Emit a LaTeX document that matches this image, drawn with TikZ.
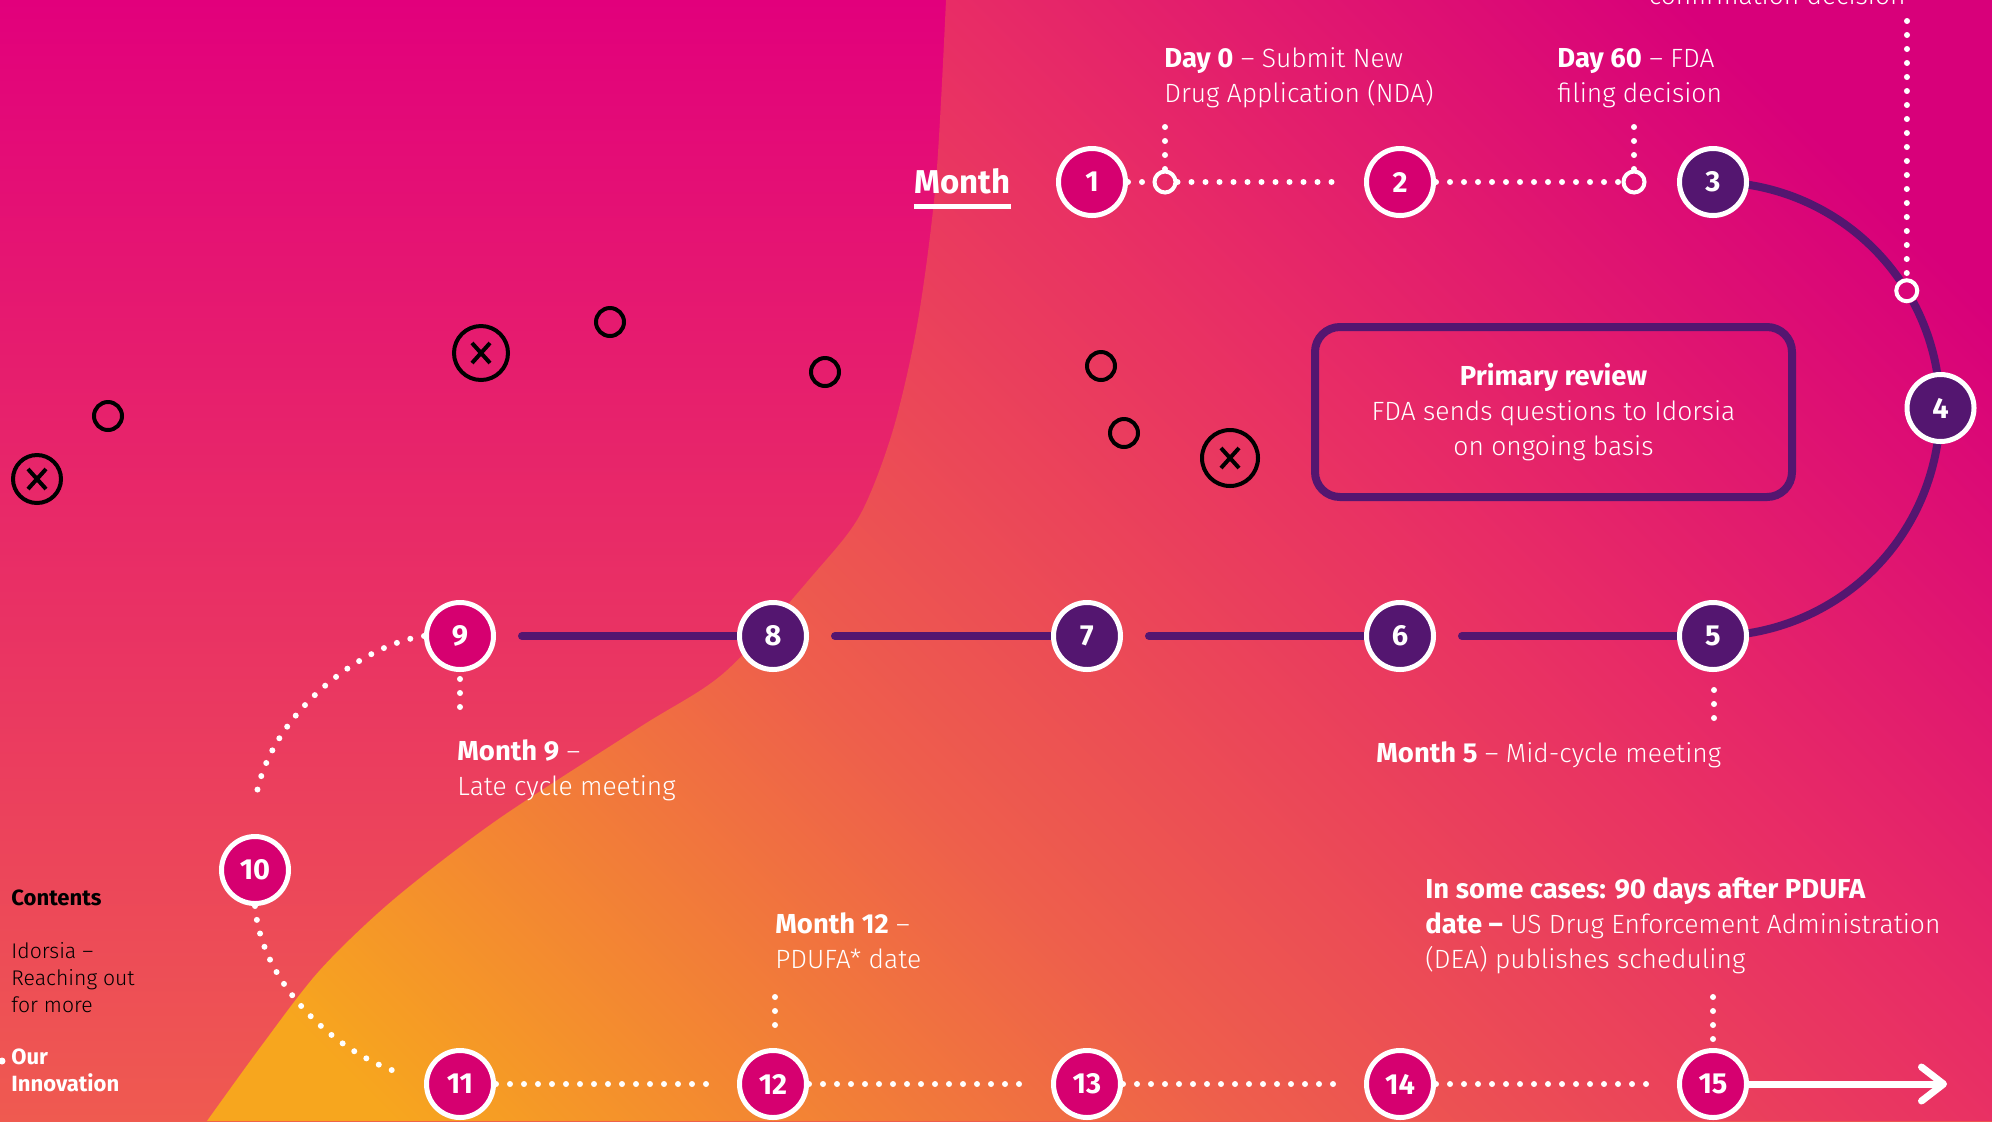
\documentclass[tikz,border=0pt]{standalone}
\usepackage{fontspec}
\setmainfont{Fira Sans}
\newfontfamily\leadfont{Fira Sans}[Scale=1.04]
\IfFontExistsTF{Fira Sans Light}{\newfontfamily\litefont{Fira Sans Light}}{\newfontfamily\litefont{Fira Sans}}
\usepackage{xcolor}
\usepackage{tikz}
\usetikzlibrary{arrows.meta, calc, backgrounds}
\definecolor{IdoMagenta}{RGB}{214, 0, 112}
\definecolor{IdoPurple}{RGB}{84, 22, 112}
\definecolor{BgTop}{RGB}{226, 0, 124}
\definecolor{BgMid}{RGB}{230, 28, 110}
\definecolor{BgLow}{RGB}{239, 90, 80}
\definecolor{BgMagenta}{RGB}{216, 0, 122}
\definecolor{BgRose}{RGB}{232, 44, 102}
\definecolor{BgCoral}{RGB}{238, 94, 76}
\definecolor{BgOrange}{RGB}{247, 166, 30}
\pgfdeclarehorizontalshading{sunrise}{100bp}{color(0bp)=(BgOrange); color(19bp)=(BgOrange); color(40bp)=(BgCoral); color(60bp)=(BgRose); color(78bp)=(BgMagenta); color(100bp)=(BgMagenta)}
\newcommand{\lead}[1]{{\leadfont\bfseries #1}}
\tikzset{
  month/.style={circle, draw=white, line width=2.5pt, minimum size=33.5pt, inner sep=0pt,
    fill=IdoMagenta, text=white, font=\bfseries\fontsize{14.5}{14.5}\selectfont},
  later/.style={month, fill=IdoPurple},
  tick/.style={circle, draw=white, line width=2pt, minimum size=10.5pt, inner sep=0pt},
  track/.style={draw=IdoPurple, line width=4pt, line cap=round},
  dots/.style={draw=white, line width=3pt, line cap=round, dash pattern=on 0pt off 7pt},
  note/.style={anchor=base west, align=left, inner sep=0pt, text=white,
    font=\litefont\fontsize{13.2}{17.5}\selectfont},
  side/.style={note, text=black, font=\litefont\fontsize{10.6}{13.5}\selectfont},
  reviewbox/.style={draw=IdoPurple, line width=4pt, rounded corners=12.5pt, minimum width=238.5pt,
    minimum height=85pt, align=center, text=white, font=\litefont\fontsize{13.2}{17.5}\selectfont},
  marker/.style={draw=black, line width=2pt}
}

\begin{document}
\begin{tikzpicture}[x=0.5pt,y=-0.5pt]
  \useasboundingbox (0,0) rectangle (1992,1121);
  \clip (0,0) rectangle (1992,1121);

  % month circles
  \node[month] (m1) at (1092,182) {1};
  \node[month] (m2) at (1400,182) {2};
  \node[later] (m3) at (1713,182) {3};
  \node[later] (m4) at (1940.5,408) {4};
  \node[later] (m5) at (1713,636) {5};
  \node[later] (m6) at (1400,636) {6};
  \node[later] (m7) at (1087,636) {7};
  \node[later] (m8) at (773,636) {8};
  \node[month] (m9) at (460,636) {9};
  \node[month] (m10) at (255,870) {10};
  \foreach \n/\x in {11/460,12/773,13/1087,14/1400,15/1713}
    \node[month] (m\n) at (\x,1084) {\n};

  % small rings and loose ends
  \coordinate (hub) at (1713,409);
  \node[tick] (t1) at (1165,182) {};
  \node[tick] (t2) at (1634,182) {};
  \node[tick] (t3) at ($(hub)+(-31.4:227)$) {};
  \coordinate (t1top) at (1165,127);
  \coordinate (t2top) at (1634,127);
  \coordinate (t3top) at (1907,21);
  \coordinate (m9a) at (460,679);
  \coordinate (m9b) at (460,711);
  \coordinate (m5a) at (1714,690);
  \coordinate (m5b) at (1714,723);
  \coordinate (m12a) at (775,997);
  \coordinate (m12b) at (775,1030);
  \coordinate (m15a) at (1713,997);
  \coordinate (bend9) at (256,797);
  \coordinate (bend11) at (404,1074);
  \coordinate (arrowtip) at (1947,1084);

  \begin{scope}[on background layer]
    \shade[top color=BgTop, middle color=BgMid, bottom color=BgLow] (0,0) rectangle (1992,1121);
    \shade[shading=sunrise, shading angle=45] plot[smooth] coordinates {(946,0) (936,180) (918,320)
      (893,430) (860,515) (813,575) (725,672) (640,727) (497,820) (393,900) (320,970) (262,1045) (207,1121)}
      -- (1992,1121) -- (1992,0) -- cycle;
    % black rings
    \foreach \x/\y in {610/322, 825/372, 108/416, 1101/366, 1124/433}
      \draw[marker] (\x,\y) circle[radius=14];
    \foreach \x/\y/\r in {481/353/27, 37/479/24, 1230/458/28}{
      \draw[marker] (\x,\y) circle[radius=\r];
      \draw[marker] (\x-9,\y-10) -- (\x+9,\y+10) (\x-9,\y+10) -- (\x+9,\y-10);
    }
    % purple track
    \draw[track, line cap=butt] (m3.center) arc[start angle=-90, end angle=-34.6, radius=227];
    \draw[track, line cap=butt] ($(hub)+(-28.2:227)$) arc[start angle=-28.2, end angle=90, radius=227];
    \foreach \a/\b in {5/6,6/7,7/8,8/9}
      \draw[track] (m\a.west) -- ($(m\b.east)+(26,0)$);
  \end{scope}

  % dotted connectors
  \draw[dots] (m1.east) -- (t1.west);
  \draw[dots] (t1.east) -- ($(m2.west)+(-22,0)$);
  \draw[dots] (m2.east) -- (t2.west);
  \draw[dots] (t1top) -- (t1.north);
  \draw[dots] (t2top) -- (t2.north);
  \draw[dots] (t3top) -- (t3.north);
  \draw[dots] (m9a) -- (m9b);
  \draw[dots] (m5a) -- (m5b);
  \draw[dots] (m12a) -- (m12b);
  \draw[dots] (m15a) -- (m15.north);
  \draw[dots] (m9.west) .. controls (360,645) and (270,715) .. (bend9);
  \draw[dots] (m10.south) .. controls (262,990) and (345,1058) .. (bend11);
  \foreach \a/\b in {11/12,12/13,13/14,14/15}
    \draw[dots] (m\a.east) -- ($(m\b.west)+(-26,0)$);
  \draw[white, line width=3.5pt, -{Straight Barb[length=11pt, width=17pt, round]}] (m15.east) -- (arrowtip);

  % labels (multi-line: base = last line)
  \node[note, anchor=base east] (conf) at (1906,4) {confirmation decision};
  \node[note] (day0) at (1164,102) {\lead{Day 0} – Submit New\\Drug Application (NDA)};
  \node[note] (day60) at (1557,102) {\lead{Day 60} – FDA\\filing decision};
  \node[note, font=\bfseries\fontsize{16.5}{16.5}\selectfont] (mlabel) at (914,193) {Month};
  \draw[white, line width=2.5pt] ($(mlabel.base west)+(0,13)$) -- ($(mlabel.base east)+(0,13)$);
  \node[reviewbox] (review) at (1553.5,412) {\lead{Primary review}\\FDA sends questions to Idorsia\\on ongoing basis};
  \node[note] (late) at (457,795) {\lead{Month 9} –\\Late cycle meeting};
  \node[note] (mid) at (1376,762) {\lead{Month 5} – Mid-cycle meeting};
  \node[note] (pdufa) at (775,968) {\lead{Month 12} –\\PDUFA* date};
  \node[note] (dea) at (1425,968) {\lead{In some cases: 90 days after PDUFA}\\\lead{date –} US Drug Enforcement Administration\\(DEA) publishes scheduling};

  % sidebar
  \node[side] (contents) at (11,905) {\lead{Contents}};
  \node[side] (idorsia) at (11,1012) {Idorsia –\\Reaching out\\for more};
  \node[side, text=white] (innov) at (11,1091) {\lead{Our}\\\lead{Innovation}};
  \fill[white] (2,1061) circle[radius=3.5];
\end{tikzpicture}
\end{document}
